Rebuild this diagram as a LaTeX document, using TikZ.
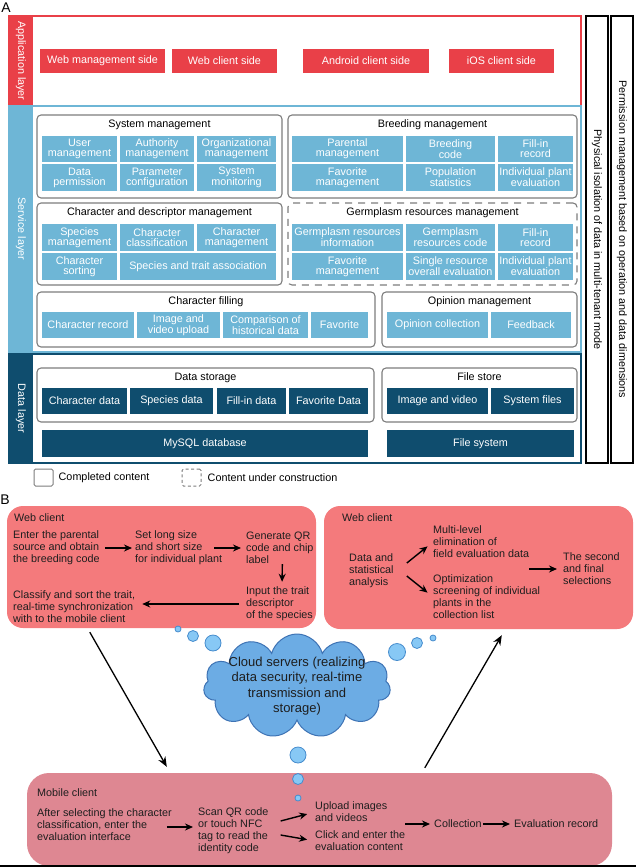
\documentclass[tikz,border=0pt]{standalone}
\usepackage{fontspec}
\setmainfont{Liberation Sans}
\usetikzlibrary{arrows.meta, calc, positioning, fit, shapes.symbols}

\definecolor{appred}{RGB}{233,64,72}
\definecolor{svcblue}{RGB}{110,182,214}
\definecolor{datblue}{RGB}{15,77,110}
\definecolor{grpgray}{RGB}{125,125,125}
\definecolor{webred}{RGB}{244,122,124}
\definecolor{mobred}{RGB}{222,135,146}
\definecolor{cloudfill}{RGB}{108,172,228}
\definecolor{cloudline}{RGB}{62,115,180}
\definecolor{bubblefill}{RGB}{135,200,245}
\definecolor{bubbleline}{RGB}{70,140,205}
\definecolor{txtdark}{RGB}{30,30,30}

\newcommand{\cellfont}{\fontsize{10.8}{10}\selectfont}
\newcommand{\flowfont}{\fontsize{10.8}{12}\selectfont}
\newcommand{\cloudfont}{\fontsize{13}{15.5}\selectfont}
\newcommand{\partfont}{\fontsize{14}{14}\selectfont}

% style, name, x1, y1, x2, y2, text
\newcommand{\cellbox}[7]{%
	\pgfmathsetmacro{\cbw}{#5-#3}\pgfmathsetmacro{\cbh}{#6-#4}%
	\node[#1, minimum width=\cbw pt, minimum height=\cbh pt] (#2) at ({(#3+#5)/2},{(#4+#6)/2}) {#7};}

\begin{document}
\begin{tikzpicture}[x=1pt, y=-1pt,
	every node/.style={inner sep=0pt, font=\cellfont},
	layer/.style={draw=#1, line width=1.8pt},
	band/.style={fill=#1},
	bandtxt/.style={rotate=-90, text=white},
	appcell/.style={fill=appred, text=white},
	svccell/.style={fill=svcblue, text=white, align=center},
	datcell/.style={fill=datblue, text=white, align=center},
	grp/.style={draw=grpgray, line width=1.1pt, rounded corners=4pt},
	grpdash/.style={grp, dash pattern=on 7pt off 6pt},
	grptitle/.style={text=black},
	sidebox/.style={draw=black, line width=1.6pt},
	sidetxt/.style={rotate=-90, text=black},
	client/.style={fill=#1, rounded corners=16pt},
	flow/.style={font=\flowfont, align=left, anchor=west, text=txtdark},
	arr/.style={-{Stealth[length=8pt, width=7pt]}, line width=1.4pt},
	bigarr/.style={-{Stealth[length=10pt, width=8pt]}, line width=1.3pt},
	bubble/.style={fill=bubblefill, draw=bubbleline, line width=0.8pt}]
	
	\useasboundingbox (0,0) rectangle (636,867);
	
	%%%%% A: layers
	\node[font=\partfont] (lblA) at (6,8) {A};
	
	% application layer
	\node[layer=appred, fit={(9,16) (581,106)}] (applayer) {};
	\node[band=appred, fit={(9,16) (33,106)}] (appband) {};
	\node[bandtxt] (appbandt) at (appband.center) {Application layer};
	\cellbox{appcell}{webman}{40}{49}{165}{73}{Web management side}
	\cellbox{appcell}{webcli}{172}{49}{277}{73}{Web client side}
	\cellbox{appcell}{andcli}{303}{49}{429}{73}{Android client side}
	\cellbox{appcell}{ioscli}{449}{49}{554}{73}{iOS client side}
	
	% service layer
	\node[layer=svcblue, line width=1.5pt, fit={(9,106) (581,352)}] (svclayer) {};
	\node[band=svcblue, fit={(9,106) (33,352)}] (svcband) {};
	\node[bandtxt] (svcbandt) at (svcband.center) {Service layer};
	
	\node[grp, fit={(37,115) (282,198)}] (sysm) {};
	\node[grptitle, below=5pt of sysm.north] (sysmt) {System management};
	\cellbox{svccell}{usrm}{42}{136}{117}{162}{User\\management}
	\cellbox{svccell}{authm}{120}{136}{194}{162}{Authority\\management}
	\cellbox{svccell}{orgm}{197}{136}{276}{162}{Organizational\\management}
	\cellbox{svccell}{dperm}{42}{164}{117}{191}{Data\\permission}
	\cellbox{svccell}{pconf}{120}{164}{194}{191}{Parameter\\configuration}
	\cellbox{svccell}{smon}{197}{164}{276}{191}{System\\monitoring}
	
	\node[grp, fit={(288,115) (577,198)}] (breed) {};
	\node[grptitle, below=5pt of breed.north] (breedt) {Breeding management};
	\cellbox{svccell}{parm}{292}{136}{403}{162}{Parental\\management}
	\cellbox{svccell}{bcode}{406}{136}{495}{162}{Breeding\\code}
	\cellbox{svccell}{fillb}{498}{136}{573}{162}{Fill-in\\record}
	\cellbox{svccell}{favb}{292}{164}{403}{191}{Favorite\\management}
	\cellbox{svccell}{popst}{406}{164}{495}{191}{Population\\statistics}
	\cellbox{svccell}{indb}{498}{164}{573}{191}{Individual plant\\evaluation}
	
	\node[grp, fit={(37,203) (282,285)}] (chard) {};
	\node[grptitle, below=5pt of chard.north] (chardt) {Character and descriptor management};
	\cellbox{svccell}{specm}{42}{224}{117}{251}{Species\\management}
	\cellbox{svccell}{chcls}{120}{224}{194}{251}{Character\\classification}
	\cellbox{svccell}{chman}{197}{224}{276}{251}{Character\\management}
	\cellbox{svccell}{chsort}{42}{253}{117}{280}{Character\\sorting}
	\cellbox{svccell}{spass}{120}{253}{276}{280}{Species and trait association}
	
	\node[grpdash, fit={(288,203) (577,285)}] (germ) {}; % under construction
	\node[grptitle, below=5pt of germ.north] (germt) {Germplasm resources management};
	\cellbox{svccell}{ginfo}{292}{224}{403}{251}{Germplasm resources\\information}
	\cellbox{svccell}{gcode}{406}{224}{495}{251}{Germplasm\\resources code}
	\cellbox{svccell}{fillg}{498}{224}{573}{251}{Fill-in\\record}
	\cellbox{svccell}{favg}{292}{253}{403}{280}{Favorite\\management}
	\cellbox{svccell}{sres}{406}{253}{495}{280}{Single resource\\overall evaluation}
	\cellbox{svccell}{indg}{498}{253}{573}{280}{Individual plant\\evaluation}
	
	\node[grp, fit={(37,292) (375,347)}] (charf) {};
	\node[grptitle, below=5pt of charf.north] (charft) {Character filling};
	\cellbox{svccell}{chrec}{42}{312}{134}{338}{Character record}
	\cellbox{svccell}{imgup}{137}{312}{220}{338}{Image and\\video upload}
	\cellbox{svccell}{hist}{223}{312}{308}{338}{Comparison of\\historical data}
	\cellbox{svccell}{favf}{311}{312}{368}{338}{Favorite}
	
	\node[grp, fit={(382,292) (577,347)}] (opin) {};
	\node[grptitle, below=5pt of opin.north] (opint) {Opinion management};
	\cellbox{svccell}{opcol}{387}{312}{488}{338}{Opinion collection}
	\cellbox{svccell}{feedb}{491}{312}{571}{338}{Feedback}
	
	% data layer
	\node[layer=datblue, line width=2.2pt, fit={(9,354) (581,463)}] (datlayer) {};
	\node[band=datblue, fit={(9,354) (33,463)}] (datband) {};
	\node[bandtxt] (datbandt) at (datband.center) {Data layer};
	
	\node[grp, fit={(37,368) (374,422)}] (dstore) {};
	\node[grptitle, below=5pt of dstore.north] (dstoret) {Data storage};
	\cellbox{datcell}{chdat}{42}{388}{127}{414}{Character data}
	\cellbox{datcell}{spdat}{130}{388}{213}{414}{Species data}
	\cellbox{datcell}{fidat}{217}{388}{286}{414}{Fill-in data}
	\cellbox{datcell}{fadat}{289}{388}{368}{414}{Favorite Data}
	
	\node[grp, fit={(382,368) (577,422)}] (fstore) {};
	\node[grptitle, below=5pt of fstore.north] (fstoret) {File store};
	\cellbox{datcell}{imgvid}{387}{388}{488}{414}{Image and video}
	\cellbox{datcell}{sysfil}{491}{388}{574}{414}{System files}
	
	\cellbox{datcell}{mysql}{42}{430}{368}{457}{MySQL database}
	\cellbox{datcell}{filesys}{387}{430}{574}{457}{File system}
	
	% side boxes
	\node[sidebox, fit={(586,16) (608,463)}] (iso) {};
	\node[sidetxt] (isot) at (iso.center) {Physical isolation of data in multi-tenant mode};
	\node[sidebox, fit={(611,16) (633,463)}] (perm) {};
	\node[sidetxt] (permt) at (perm.center) {Permission management based on operation and data dimensions};
	
	% legend
	\node[grp, rounded corners=1.5pt, line width=1pt, fit={(34,469) (53,486)}] (legdone) {};
	\node[anchor=west] (legdonet) at ([xshift=5pt]legdone.east) {Completed content};
	\node[grpdash, dash pattern=on 3pt off 2.5pt, rounded corners=1.5pt, line width=1pt, fit={(182,469) (201,486)}] (legwip) {};
	\node[anchor=west] (legwipt) at ([xshift=6pt]legwip.east) {Content under construction};
	
	%%%%% B: workflow
	\node[font=\partfont] (lblB) at (5,500) {B};
	
	% web client (left)
	\node[client=webred, fit={(7,506) (316,628)}] (webL) {};
	\node[flow] (webLt) at (14,518) {Web client};
	\node[flow] (enter) at (13,548) {Enter the parental\\source and obtain\\the breeding code};
	\node[flow] (setl) at (135,548) {Set long size\\and short size\\for individual plant};
	\node[flow] (genqr) at (246,548) {Generate QR\\code and chip\\label};
	\node[flow] (input) at (246,604) {Input the trait\\descriptor\\of the species};
	\node[flow] (classify) at (13,607) {Classify and sort the trait,\\real-time synchronization\\with to the mobile client};
	\draw[arr, shorten <=5pt, shorten >=3pt] (enter) -- (setl);
	\draw[arr, shorten >=5pt] ([xshift=-8pt]setl.east) -- (genqr.west);
	\draw[arr, shorten >=5pt] ([xshift=2.5pt]genqr.south) -- ([xshift=2.5pt]input.north);
	\draw[arr, shorten <=7pt, shorten >=7pt] (input.west) -- (input.west -| classify.east);
	
	% web client (right)
	\node[client=webred, fit={(324,506) (633,629)}] (webR) {};
	\node[flow] (webRt) at (342,518) {Web client};
	\node[flow] (stat) at (349,571) {Data and\\statistical\\analysis};
	\node[flow] (multi) at (433,542) {Multi-level\\elimination of\\field evaluation data};
	\node[flow] (optim) at (433,597) {Optimization\\screening of individual\\plants in the\\collection list};
	\node[flow] (final) at (563,569) {The second\\and final\\selections};
	\draw[arr, shorten >=7pt] ([xshift=13pt, yshift=8pt]stat.east) -- (multi.west);
	\draw[arr, shorten >=7pt] ([xshift=13pt, yshift=-5pt]stat.east) -- (optim.west);
	\draw[arr, shorten >=6pt] (multi.east |- final.west) -- (final.west);
	
	% mobile client
	\node[client=mobred, rounded corners=22pt, fit={(27,773) (612,866)}] (mobile) {};
	\node[flow] (mobt) at (37,793) {Mobile client};
	\node[flow] (after) at (37,825) {After selecting the character\\classification, enter the\\evaluation interface};
	\node[flow] (scan) at (198,831) {Scan QR code\\or touch NFC\\tag to read the\\identity code};
	\node[flow] (upload) at (315,812) {Upload images\\and videos};
	\node[flow] (click) at (315,841) {Click and enter the\\evaluation content};
	\node[flow] (coll) at (434,824) {Collection};
	\node[flow] (evrec) at (514,824) {Evaluation record};
	\draw[arr, shorten >=5pt] ([xshift=-5pt, yshift=-2pt]after.east) -- ([yshift=-2pt]after.east -| scan.west);
	\draw[arr, shorten >=8pt] ([xshift=12pt, yshift=10pt]scan.east) -- (upload.west);
	\draw[arr, shorten >=8pt] ([xshift=12pt, yshift=-4pt]scan.east) -- (click.west);
	\draw[arr, shorten >=4pt] (click.east |- coll.west) -- (coll.west);
	\draw[arr, shorten <=1pt, shorten >=4pt] (coll) -- (evrec);
	
	% cloud and its bubbles
	\node[cloud, cloud puffs=11, aspect=1.8, draw=cloudline, line width=1pt, fill=cloudfill,
	minimum width=187pt, minimum height=104pt] (cloud) at (297,686) {};
	\node[font=\cloudfont, align=center, text=txtdark] (cloudt) at (cloud.center) {Cloud servers (realizing\\data security, real-time\\transmission and\\storage)};
	\foreach \cx/\cy/\r in {178/629/3, 193/636/5.5, 213/643/8, 397/652/8.5, 417/643/5.5, 433/638/3, 298/755/8, 298/779/5.5, 298/798/3}
	\draw[bubble] (\cx,\cy) circle[radius=\r pt];
	
	% sync between clients
	\draw[bigarr] ([xshift=83pt, yshift=-4pt]webL.south west) -- ([xshift=140pt, yshift=6pt]mobile.north west);
	\draw[bigarr] ([xshift=398pt, yshift=5pt]mobile.north west) -- ([xshift=178pt, yshift=-6pt]webR.south west);
	
	% cut edge at the foot
	\draw[line width=1.4pt] (0,866) -- (636,866);
	
\end{tikzpicture}
\end{document}
